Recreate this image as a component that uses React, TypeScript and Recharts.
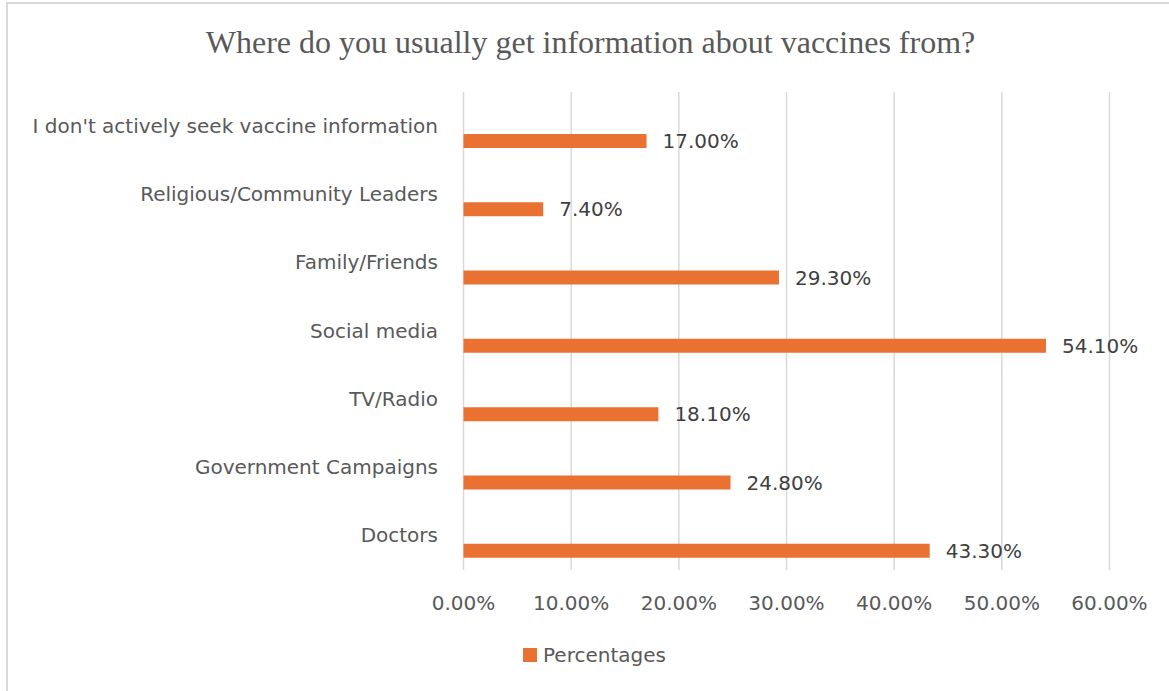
import React from "react";
import { BarChart, Bar, XAxis, YAxis, CartesianGrid, LabelList } from "recharts";

const categories = [
  "I don't actively seek vaccine information",
  "Religious/Community Leaders",
  "Family/Friends",
  "Social media",
  "TV/Radio",
  "Government Campaigns",
  "Doctors",
];
const percentages = [17.0, 7.4, 29.3, 54.1, 18.1, 24.8, 43.3];
const xTicks = [0, 10, 20, 30, 40, 50, 60];
const seriesName = "Percentages";
const title = "Where do you usually get information about vaccines from?";

const data = categories.map((name, i) => ({ name, value: percentages[i], spacer: null }));

const SANS = "'DejaVu Sans', sans-serif";
const ORANGE = "#E97132";
const GRID = "#d9d9d9";
const TEXT = "#595959";

const fmt = (v: number) => `${Number(v).toFixed(2)}%`;

const CatTick = (props: any) => {
  const { y, payload } = props;
  return (
    <text x={438} y={y + 6.5} textAnchor="end" fill={TEXT} fontSize={20} fontFamily={SANS}>
      {payload.value}
    </text>
  );
};

const ValTick = (props: any) => {
  const { x, payload } = props;
  return (
    <text x={x} y={610} textAnchor="middle" fill={TEXT} fontSize={20} fontFamily={SANS}>
      {fmt(payload.value)}
    </text>
  );
};

export default function App() {
  return (
    <div
      style={{
        position: "absolute",
        left: 0,
        top: 0,
        width: 1169,
        height: 691,
        background: "#fff",
        overflow: "hidden",
      }}
    >
      <div
        style={{
          position: "absolute",
          left: 6,
          top: 2,
          width: 1200,
          height: 720,
          borderTop: `2px solid ${GRID}`,
          borderLeft: `2px solid ${GRID}`,
          boxSizing: "border-box",
        }}
      />
      <div
        style={{
          position: "absolute",
          left: 0,
          width: 1181,
          top: 22,
          textAlign: "center",
          fontFamily: "'Liberation Serif', 'Times New Roman', serif",
          fontSize: 32,
          lineHeight: "40px",
          color: TEXT,
          whiteSpace: "nowrap",
        }}
      >
        {title}
      </div>
      <div style={{ position: "absolute", left: 0, top: 0 }}>
        <BarChart
          width={1169}
          height={691}
          data={data}
          layout="vertical"
          margin={{ top: 92, right: 59.5, bottom: 71, left: 0 }}
          barSize={14}
          barGap={16}
        >
          <CartesianGrid horizontal={false} vertical={true} stroke={GRID} strokeWidth={1.5} />
          <XAxis
            type="number"
            domain={[0, 60]}
            ticks={xTicks}
            axisLine={false}
            tickLine={false}
            height={50}
            tick={<ValTick />}
            interval={0}
          />
          <YAxis
            type="category"
            dataKey="name"
            width={463.5}
            axisLine={false}
            tickLine={false}
            tick={<CatTick />}
            interval={0}
          />
          <Bar dataKey="spacer" fill="transparent" isAnimationActive={false} />
          <Bar dataKey="value" name={seriesName} fill={ORANGE} isAnimationActive={false}>
            <LabelList
              dataKey="value"
              position="right"
              offset={16}
              formatter={(v: any) => fmt(v)}
              fill="#404040"
              fontSize={20}
              fontFamily={SANS}
            />
          </Bar>
        </BarChart>
      </div>
      <div
        style={{
          position: "absolute",
          left: 523,
          top: 641,
          height: 28,
          display: "flex",
          alignItems: "center",
          fontFamily: SANS,
          fontSize: 20,
          color: TEXT,
          whiteSpace: "nowrap",
        }}
      >
        <span style={{ display: "inline-block", width: 14, height: 14, background: ORANGE, marginRight: 6 }} />
        <span>{seriesName}</span>
      </div>
    </div>
  );
}
